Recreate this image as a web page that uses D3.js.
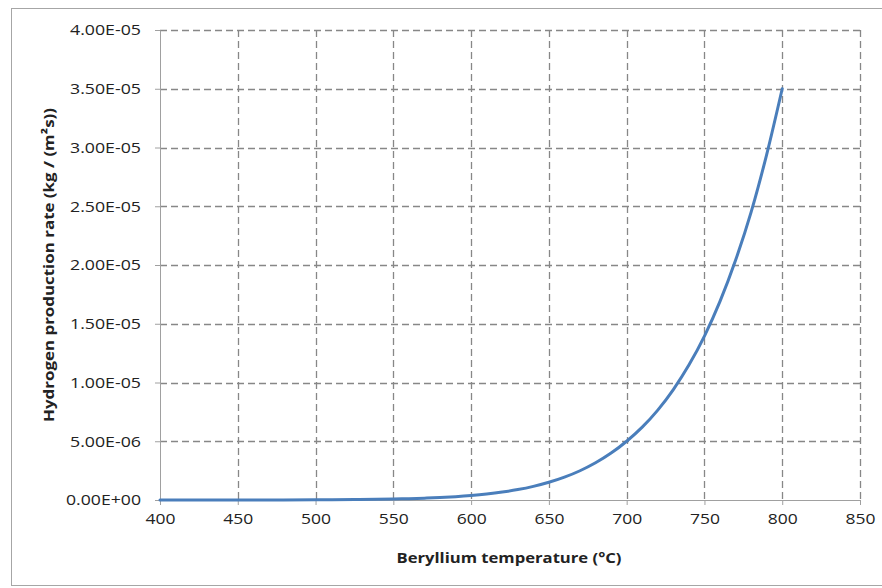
<!DOCTYPE html>
<html>
<head>
<meta charset="utf-8">
<script src="https://cdn.jsdelivr.net/npm/d3@7"></script>
<style>
  html, body { margin: 0; padding: 0; background: #fff; }
  svg { display: block; }
  text { font-family: "Open Sans", "DejaVu Sans", sans-serif; fill: #222; }
</style>
</head>
<body>
<svg id="chart" width="882" height="588"></svg>
<script>
// ---- data ----
const temperatures = [400, 425, 450, 475, 500, 525, 550, 560, 570, 580, 590, 600, 610, 620, 630, 640, 650, 660, 670, 680, 690, 700, 710, 720, 730, 740, 750, 760, 770, 780, 790, 800];
const productionRate = [0.0002e-6, 0.0008e-6, 0.0025e-6, 0.007e-6, 0.018e-6, 0.04e-6, 0.083e-6, 0.115e-6, 0.157e-6, 0.213e-6, 0.287e-6, 0.384e-6, 0.511e-6, 0.676e-6, 0.887e-6, 1.16e-6, 1.507e-6, 1.945e-6, 2.49e-6, 3.166e-6, 3.993e-6, 5.0e-6, 6.2e-6, 7.65e-6, 9.4e-6, 1.148e-5, 1.395e-5, 1.69e-5, 2.04e-5, 2.45e-5, 2.94e-5, 3.5e-5];
const xTicks = [400, 450, 500, 550, 600, 650, 700, 750, 800, 850];
const yTicks = [0, 5e-6, 1e-5, 1.5e-5, 2e-5, 2.5e-5, 3e-5, 3.5e-5, 4e-5];
const yTickLabels = ["0.00E+00", "5.00E-06", "1.00E-05", "1.50E-05", "2.00E-05", "2.50E-05", "3.00E-05", "3.50E-05", "4.00E-05"];
const xTitle = "Beryllium temperature (°C)";
const yTitle = "Hydrogen production rate (kg / (m²s))";

const svg = d3.select("#chart");
const plot = { left: 160, right: 860, top: 30, bottom: 500 };

// outer frame
svg.append("rect")
  .attr("x", 11.5).attr("y", 8.5)
  .attr("width", 880).attr("height", 577)
  .attr("fill", "none").attr("stroke", "#a6a6a6").attr("stroke-width", 1);

const x = d3.scaleLinear().domain([400, 850]).range([plot.left, plot.right]);
const y = d3.scaleLinear().domain([0, 4e-5]).range([plot.bottom, plot.top]);

const gridColor = "#878787";
svg.append("g").selectAll("line")
  .data(xTicks.filter(d => d !== 400))
  .join("line")
  .attr("x1", d => Math.round(x(d)) + 0.5).attr("x2", d => Math.round(x(d)) + 0.5)
  .attr("y1", plot.top).attr("y2", plot.bottom)
  .attr("stroke", gridColor).attr("stroke-width", 1.3)
  .attr("stroke-dasharray", "7,4");
svg.append("g").selectAll("line")
  .data(yTicks.filter(d => d !== 0))
  .join("line")
  .attr("x1", plot.left).attr("x2", plot.right)
  .attr("y1", d => Math.round(y(d)) + 0.5).attr("y2", d => Math.round(y(d)) + 0.5)
  .attr("stroke", gridColor).attr("stroke-width", 1.3)
  .attr("stroke-dasharray", "7,4");

// axes
const xAxis = d3.axisBottom(x).tickValues(xTicks).tickSize(5).tickSizeOuter(0).tickPadding(8)
  .tickFormat(d3.format("d"));
const gx = svg.append("g").attr("transform", `translate(0,${plot.bottom})`).call(xAxis);
gx.select(".domain").attr("stroke", "#a0a0a0");
gx.selectAll(".tick line").attr("stroke", "#a0a0a0");
gx.selectAll(".tick text").attr("font-size", 15).attr("fill", "#222")
  .style("font-family", "'Open Sans', sans-serif")
  .attr("textLength", 30).attr("lengthAdjust", "spacingAndGlyphs");

const yAxis = d3.axisLeft(y).tickValues(yTicks).tickSize(5).tickSizeOuter(0).tickPadding(14)
  .tickFormat((d, i) => yTickLabels[i]);
const gy = svg.append("g").attr("transform", `translate(${plot.left},0)`).call(yAxis);
gy.select(".domain").attr("stroke", "#a0a0a0");
gy.selectAll(".tick line").attr("stroke", "#a0a0a0");
gy.selectAll(".tick text").attr("font-size", 15).attr("fill", "#222")
  .style("font-family", "'Open Sans', sans-serif")
  .attr("textLength", (d, i) => i === 0 ? 75 : 71).attr("lengthAdjust", "spacingAndGlyphs");

// series line
const line = d3.line()
  .x((d, i) => x(temperatures[i]))
  .y(d => y(d))
  .curve(d3.curveMonotoneX);
svg.append("path")
  .datum(productionRate)
  .attr("d", line)
  .attr("fill", "none")
  .attr("stroke", "#4a7ebb")
  .attr("stroke-width", 3)
  .attr("stroke-linecap", "round");

// axis titles
svg.append("text")
  .attr("x", 509).attr("y", 563)
  .attr("text-anchor", "middle")
  .attr("font-size", 15).attr("font-weight", "bold")
  .attr("textLength", 225).attr("lengthAdjust", "spacingAndGlyphs")
  .text(xTitle);

svg.append("text")
  .attr("transform", "translate(54,265) rotate(-90)")
  .attr("text-anchor", "middle")
  .attr("font-size", 15).attr("font-weight", "bold")
  .attr("textLength", 314).attr("lengthAdjust", "spacingAndGlyphs")
  .text(yTitle);
</script>
</body>
</html>
